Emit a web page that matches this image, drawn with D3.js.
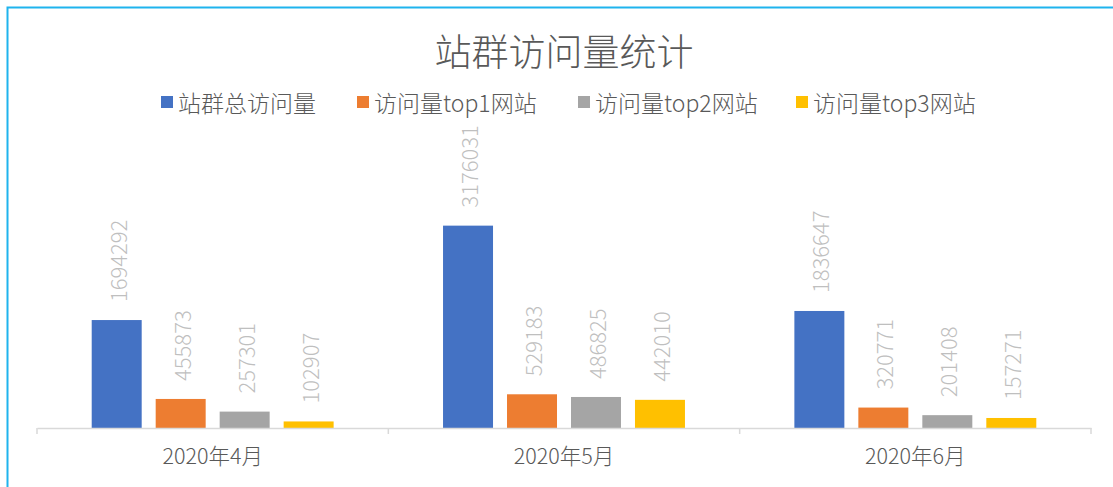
<!DOCTYPE html>
<html>
<head>
<meta charset="utf-8">
<script src="https://cdn.jsdelivr.net/npm/d3@7"></script>
<style>
  body { margin: 0; background: #fff; }
  svg { display: block; font-family: "Noto Sans CJK SC", "Noto Sans", sans-serif; font-weight: 300; }
</style>
</head>
<body>
<div id="chart_root"></div>
<script>
const widthValue = 1113;
const heightValue = 487;

const months = ["2020年4月", "2020年5月", "2020年6月"];
const seriesNames = ["站群总访问量", "访问量top1网站", "访问量top2网站", "访问量top3网站"];
const seriesColors = ["#4472C4", "#ED7D31", "#A5A5A5", "#FFC000"];
const totalVisits = [1694292, 3176031, 1836647];
const top1Visits = [455873, 529183, 320771];
const top2Visits = [257301, 486825, 201408];
const top3Visits = [102907, 442010, 157271];

const plot = { left: 37, right: 1091, base: 428, top: 205 };

const svg = d3
  .select("#chart_root")
  .append("svg")
  .attr("width", widthValue)
  .attr("height", heightValue);

// chart area border
svg
  .append("rect")
  .attr("x", 7.5)
  .attr("y", 7.5)
  .attr("width", widthValue + 20)
  .attr("height", heightValue + 20)
  .attr("fill", "#fff")
  .attr("stroke", "#1FB4EE")
  .attr("stroke-width", 2);

// title
svg
  .append("text")
  .attr("x", 564)
  .attr("y", 50)
  .attr("text-anchor", "middle")
  .attr("dominant-baseline", "central")
  .attr("font-size", 37)
  .attr("fill", "#595959")
  .text("站群访问量统计");

// legend
const legendX = [161, 357, 578, 796];
const legend = svg
  .append("g")
  .selectAll("g")
  .data(seriesNames)
  .join("g")
  .attr("transform", (d, i) => "translate(" + legendX[i] + ",102)");
legend
  .append("rect")
  .attr("x", 0)
  .attr("y", -6)
  .attr("width", 12)
  .attr("height", 12)
  .attr("fill", (d, i) => seriesColors[i]);
legend
  .append("text")
  .attr("x", 17)
  .attr("y", 0)
  .attr("dominant-baseline", "central")
  .attr("font-size", 23)
  .attr("fill", "#595959")
  .text((d) => d);

// scales
const xGroup = d3.scaleBand().domain(months).range([plot.left, plot.right]).padding(0);
const xSeries = d3
  .scaleBand()
  .domain(d3.range(seriesNames.length))
  .range([0, xGroup.bandwidth()])
  .paddingInner(0.21875)
  .paddingOuter(0.855);
const yScale = d3.scaleLinear().domain([0, 3500000]).range([plot.base, plot.top]);

const rows = months.map((m, i) => ({
  month: m,
  values: [totalVisits[i], top1Visits[i], top2Visits[i], top3Visits[i]],
}));

const groups = svg
  .append("g")
  .selectAll("g")
  .data(rows)
  .join("g")
  .attr("transform", (d) => "translate(" + xGroup(d.month) + ",0)");

groups
  .selectAll("rect")
  .data((d) => d.values)
  .join("rect")
  .attr("x", (d, i) => xSeries(i))
  .attr("y", (d) => yScale(d))
  .attr("width", xSeries.bandwidth())
  .attr("height", (d) => plot.base - yScale(d))
  .attr("fill", (d, i) => seriesColors[i]);

// rotated data labels
groups
  .selectAll("text")
  .data((d) => d.values)
  .join("text")
  .attr("transform", (d, i) =>
    "translate(" + (xSeries(i) + xSeries.bandwidth() / 2) + "," + (yScale(d) - 18) + ") rotate(-90)"
  )
  .attr("text-anchor", "start")
  .attr("dominant-baseline", "central")
  .attr("font-size", 22)
  .attr("fill", "#BFBFBF")
  .text((d) => d);

// x axis
const xAxis = svg
  .append("g")
  .attr("transform", "translate(0," + plot.base + ")")
  .call(d3.axisBottom(xGroup).tickSize(0).tickPadding(21));
xAxis.select(".domain").attr("stroke", "#D9D9D9").attr("stroke-width", 1.5);
xAxis
  .selectAll("text")
  .attr("font-size", 21.5)
  .attr("font-family", "'Noto Sans CJK SC', sans-serif")
  .attr("font-weight", 300)
  .attr("fill", "#595959");

// boundary ticks
const bounds = months.map((m) => xGroup(m)).concat([plot.right]);
svg
  .append("g")
  .selectAll("line")
  .data(bounds)
  .join("line")
  .attr("x1", (d) => d)
  .attr("x2", (d) => d)
  .attr("y1", plot.base)
  .attr("y2", plot.base + 6)
  .attr("stroke", "#D9D9D9")
  .attr("stroke-width", 1.5);
</script>
</body>
</html>
